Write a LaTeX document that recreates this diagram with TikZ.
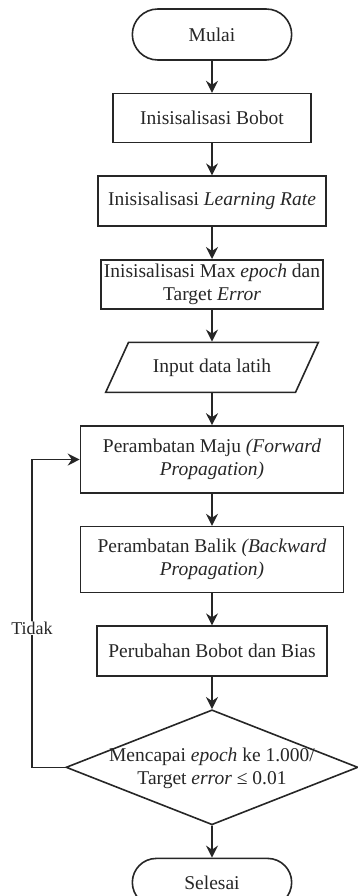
\documentclass[tikz,border=0pt]{standalone}
\usepackage{fontspec}
\setmainfont{Liberation Serif}
\usepackage{xcolor}
\usetikzlibrary{shapes.geometric,shapes.misc,arrows.meta,positioning}

\begin{document}
\begin{tikzpicture}[x=1pt, y=1pt, node distance=32pt, auto,
    every node/.style={text=black!85, font=\fontsize{19.5}{23}\selectfont}]
    \tikzstyle{block} = [rectangle, draw=black!85, line width=1.6pt,
        align=center, inner sep=3pt]
    \tikzstyle{terminal} = [rounded rectangle, draw=black!85, line width=1.6pt,
        minimum width=166pt, minimum height=50pt]
    \tikzstyle{io} = [trapezium, trapezium left angle=55, trapezium right angle=125,
        trapezium stretches=true, draw=black!85, line width=1.6pt,
        minimum width=213pt, minimum height=50pt]
    \tikzstyle{decision} = [diamond, draw=black!85, line width=1.6pt,
        minimum width=292pt, minimum height=115pt, inner sep=0pt]
    \tikzstyle{line} = [draw=black!85, line width=1.6pt,
        -{Stealth[length=12pt, width=12pt, inset=4pt]}]

    \useasboundingbox (0,0) rectangle (357,-896);

    \node [terminal, minimum height=51pt] (mulai) at (212,-34.5) {Mulai};
    \node [block, below=of mulai, minimum width=198pt, minimum height=49pt] (bobot) {Inisisalisasi Bobot};
    \node [block, below=of bobot, minimum width=228pt, minimum height=50pt] (lrate) {Inisisalisasi \textit{Learning Rate}};
    \node [block, below=of lrate, minimum width=220pt, minimum height=49pt] (maxepoch) {Inisisalisasi Max \textit{epoch} dan\\Target \textit{Error}};
    \node [io, below=of maxepoch] (input) {Input data latih};
    \node [block, below=of input, minimum width=263pt, minimum height=67pt] (maju) {Perambatan Maju \textit{(Forward}\\\textit{Propagation)}};
    \node [block, below=of maju, minimum width=263pt, minimum height=66pt] (balik) {Perambatan Balik \textit{(Backward}\\\textit{Propagation)}};
    \node [block, below=of balik, minimum width=230pt, minimum height=50pt] (ubah) {Perubahan Bobot dan Bias};
    \node [decision, below=of ubah,
        label={[align=center, yshift=-1pt]center:Mencapai \textit{epoch} ke 1.000/\\Target \textit{error} ≤ 0.01}] (cek) {};
    \node [terminal, below=of cek, minimum height=48pt] (selesai) {Selesai};

    \path [line] (mulai) -- (bobot);
    \path [line] (bobot) -- (lrate);
    \path [line] (lrate) -- (maxepoch);
    \path [line] (maxepoch) -- (input);
    \path [line] (input) -- (maju);
    \path [line] (maju) -- (balik);
    \path [line] (balik) -- (ubah);
    \path [line] (ubah) -- (cek);
    \path [line] (cek) -- (selesai);

    % jalur kembali
    \coordinate [left=33pt of cek.west] (belok);
    \path [line] (cek.west) -- (belok) |- (maju.west);
    \node [fill=white, inner sep=1pt, font=\fontsize{18}{21}\selectfont] (tidak) at (32,-628) {Tidak};
\end{tikzpicture}
\end{document}
